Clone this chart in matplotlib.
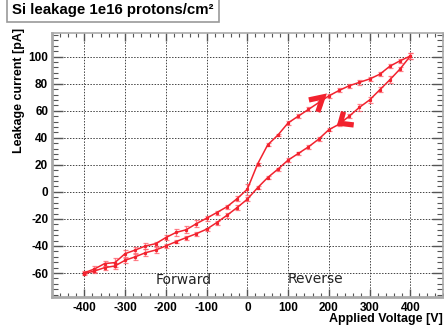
"""Si leakage current vs applied voltage, hysteresis loop (1e16 protons/cm2)."""
import numpy as np
import matplotlib
matplotlib.use("Agg")
import matplotlib.pyplot as plt
from matplotlib.ticker import MultipleLocator

# forward sweep -400 -> +400 V
fwd_v = [-400, -375, -350, -325, -300, -275, -250, -225, -200, -175, -150,
         -125, -100, -75, -50, -25, 0, 25, 50, 75, 100, 125, 150, 175, 200,
         225, 250, 275, 300, 325, 350, 375, 400]
fwd_i = [-59.8, -57.0, -53.0, -52.3, -45.7, -43.0, -40.0, -38.3, -33.8, -30.0,
         -28.0, -23.5, -19.5, -15.3, -11.0, -5.0, 2.0, 20.5, 34.8, 42.0, 51.0,
         56.0, 61.0, 66.0, 71.0, 75.0, 78.5, 81.0, 83.5, 87.0, 93.0, 97.0, 100.5]
fwd_err = [1.0, 2.0, 2.0, 3.5, 2.5, 2.5, 2.5, 1.5, 2.0, 2.5, 2.5, 2.5, 2.0,
           1.5, 1.5, 2.0, 4.0, 1.0, 1.0, 1.0, 1.5, 1.5, 1.5, 1.5, 1.5, 1.5,
           1.5, 2.0, 1.5, 1.5, 1.5, 1.5, 2.0]

# reverse sweep +400 -> -400 V
rev_v = fwd_v[::-1]
rev_i = [100.5, 91.0, 83.0, 75.5, 68.0, 62.5, 56.0, 50.0, 46.0, 39.0, 33.3,
         28.4, 23.5, 16.8, 10.6, 3.0, -5.4, -11.6, -17.3, -22.7, -27.6, -30.9,
         -33.8, -36.8, -40.0, -43.0, -45.0, -48.0, -50.6, -54.8, -56.0, -58.5,
         -60.5]
rev_err = [2.0, 1.5, 2.5, 2.0, 2.0, 2.5, 1.5, 1.0, 1.0, 1.5, 1.5, 1.0, 1.5,
           1.0, 1.0, 1.0, 1.5, 2.0, 2.0, 1.5, 1.0, 1.5, 1.5, 1.0, 1.5, 2.0,
           2.5, 2.0, 2.0, 2.0, 1.5, 1.5, 1.0]

# sweep-direction arrowheads (V, pA)
ARROW_UP = ([151, 185.5, 173], [68.0, 70.2, 59.1])
ARROW_DOWN = ([236, 228, 261], [59.3, 50.7, 49.5])

RED = "#f2222e"
LABEL_FONT = dict(family="Liberation Sans", weight="bold")

fig = plt.figure(figsize=(4.44, 3.34), dpi=100)
ax = fig.add_axes([0.1164, 0.1117, 0.8813, 0.7895])

ax.set_xlim(-480, 480)
ax.set_ylim(-77.5, 117.5)

for v, i, e in ((fwd_v, fwd_i, fwd_err), (rev_v, rev_i, rev_err)):
    ax.errorbar(v, i, yerr=e, color=RED, lw=1.1, marker="s", ms=1.3,
                ecolor=(1.0, 0.35, 0.4, 0.75), elinewidth=0.9, capsize=1.8,
                capthick=0.9, zorder=3)

for xs, ys in (ARROW_UP, ARROW_DOWN):
    ax.plot(xs, ys, color=RED, lw=3.8, solid_joinstyle="miter",
            solid_capstyle="butt", zorder=4)

ax.text(-155, -65, "Forward", ha="center", va="center", fontsize=10,
        family="DejaVu Sans", color="#222222")
ax.text(167, -64.5, "Reverse", ha="center", va="center", fontsize=10,
        family="DejaVu Sans", color="#222222")

# axes / ticks
ax.xaxis.set_major_locator(MultipleLocator(100))
ax.xaxis.set_minor_locator(MultipleLocator(20))
ax.yaxis.set_major_locator(MultipleLocator(20))
ax.yaxis.set_minor_locator(MultipleLocator(4))
ax.grid(True, which="major", color="#444444", lw=0.7, ls=(0, (1.5, 1.5)))
ax.tick_params(axis="both", which="both", direction="in", top=True,
               right=True, colors="#555555", labelcolor="black",
               labelsize=8.5)
ax.tick_params(axis="y", which="major", length=8, width=1.0, pad=2.5)
ax.tick_params(axis="y", which="minor", length=4, width=0.8)
ax.tick_params(axis="x", which="major", length=6, width=1.0, pad=4)
ax.tick_params(axis="x", which="minor", length=3, width=0.8)
ax.set_xticks([-400, -300, -200, -100, 0, 100, 200, 300, 400])
ax.set_xticklabels(["-400", "-300", "-200", "-100", "0", "100", "200", "300",
                    "400"], **LABEL_FONT)
ax.set_yticks([-60, -40, -20, 0, 20, 40, 60, 80, 100])
ax.set_yticklabels(["-60", "-40", "-20", "0", "20", "40", "60", "80", "100"],
                   **LABEL_FONT)
for s in ax.spines.values():
    s.set_color("#aaaaaa")
    s.set_linewidth(1.2)
ax.spines["left"].set_linewidth(2.0)
ax.spines["bottom"].set_linewidth(2.0)

fig.text(443 / 444, 1 - 319 / 334, "Applied Voltage [V]", ha="right",
         va="center", fontsize=9, **LABEL_FONT)
fig.text(19 / 444, 1 - 28 / 334, "Leakage current [pA]", ha="center",
         va="top", rotation=90, fontsize=9, **LABEL_FONT)

fig.text(12 / 444, 1 - 10 / 334, "Si leakage 1e16 protons/cm²",
         ha="left", va="center", fontsize=10.8, family="Liberation Sans",
         weight="bold",
         bbox=dict(boxstyle="square,pad=0.35", fc="white", ec="#999999",
                   lw=1.2))

fig.savefig("out.png", dpi=100)
